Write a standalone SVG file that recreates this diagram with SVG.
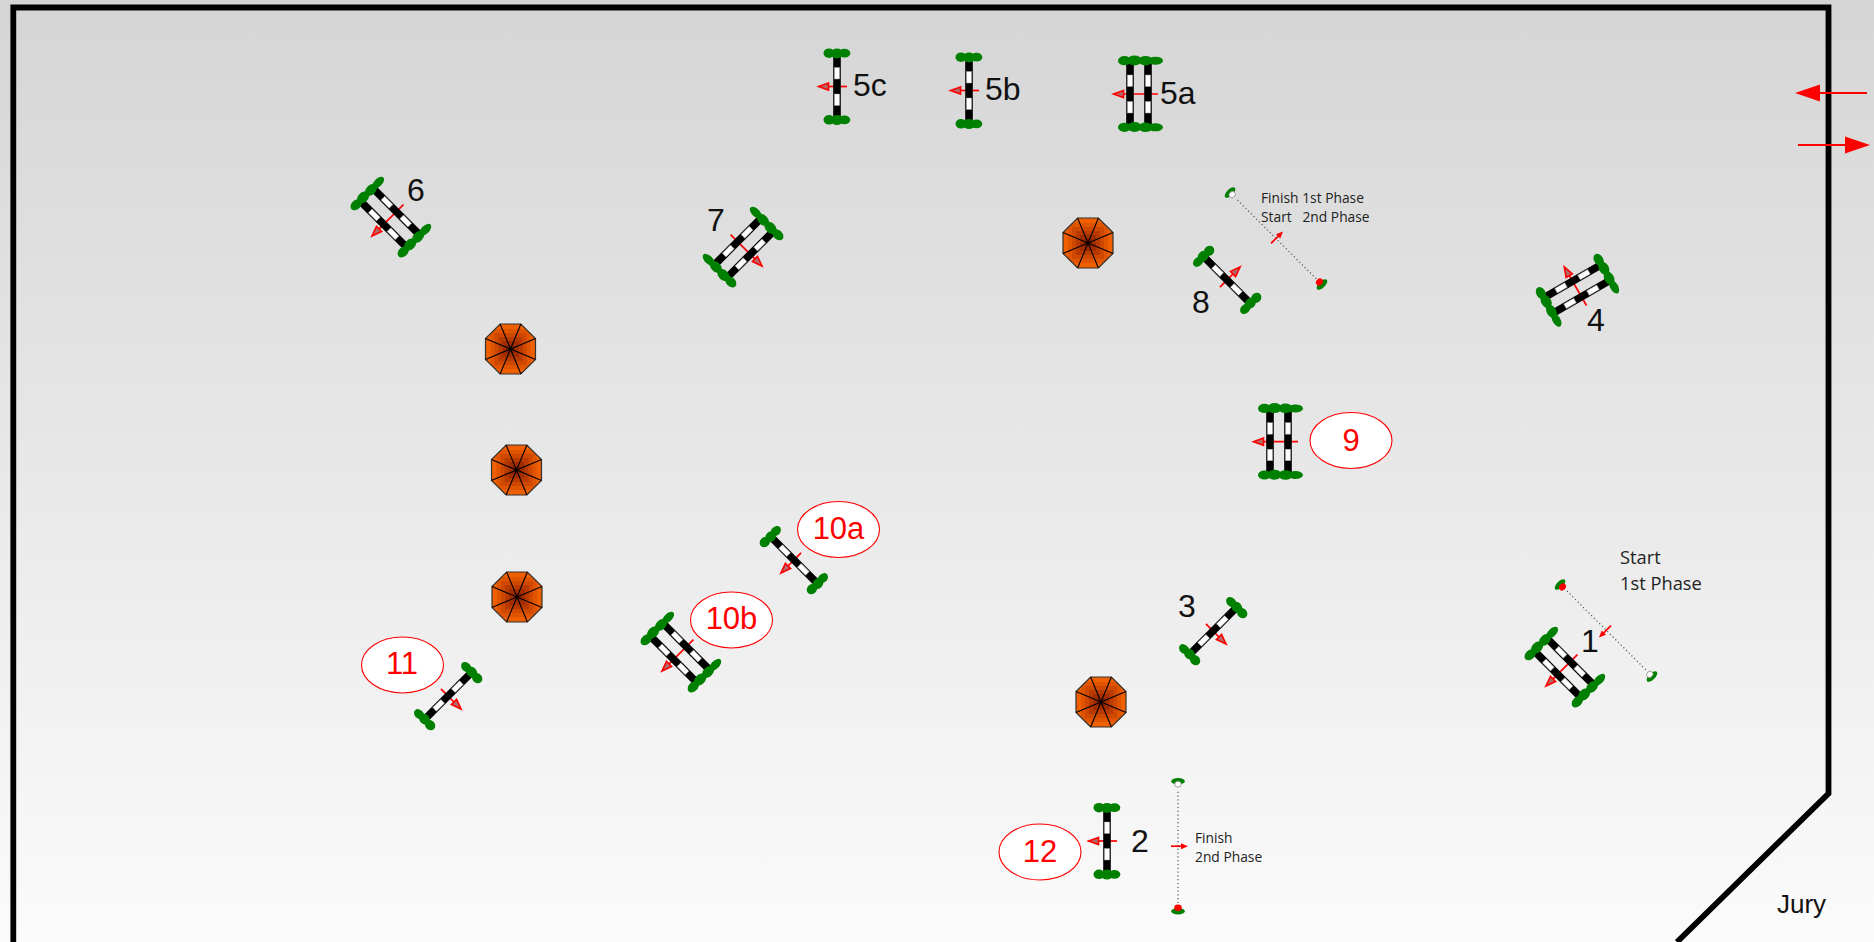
<svg xmlns="http://www.w3.org/2000/svg" width="1874" height="942" viewBox="0 0 1874 942">
<style>
.num{font-family:"Liberation Sans",Arial,sans-serif;font-size:32px;fill:#111}
.red{font-family:"Liberation Sans",Arial,sans-serif;font-size:31px;fill:#f00;text-anchor:middle}
.note{font-family:"Open Sans","Noto Sans",sans-serif;fill:#222;white-space:pre}
.oval{fill:#fff;stroke:#f00;stroke-width:1.1}
.g{fill:#008000}
.bk{fill:#000}
.wh{fill:#fff;stroke:#999;stroke-width:.5}
.ar{stroke:#f00;stroke-width:1.7;fill:none}
.hd{stroke:#f00;stroke-width:1.6;fill:#b06a6a;stroke-linejoin:miter}
.sp{stroke:#000;stroke-width:1.1}
.dot{stroke:#555;stroke-width:1.2;stroke-dasharray:1.2 2.6;fill:none}
</style>
<defs>
<linearGradient id="bg" x1="0" y1="0" x2="0" y2="1"><stop offset="0" stop-color="#d5d5d5"/><stop offset="1" stop-color="#fbfbfb"/></linearGradient>
<g id="bar">
<rect class="bk" x="-3.8" y="-30.5" width="7.6" height="61"/>
<rect class="wh" x="-2.6" y="-19" width="5.2" height="11.5"/>
<rect class="wh" x="-2.6" y="7.5" width="5.2" height="11.5"/>
</g>
<g id="hs">
<ellipse class="g" cx="-8" cy="0" rx="5.5" ry="4.8"/><ellipse class="g" cx="0" cy=".3" rx="6" ry="5"/><ellipse class="g" cx="7.5" cy="0" rx="5.8" ry="4.4"/>
</g>
<g id="hd">
<ellipse class="g" cx="-16" cy="0" rx="6.5" ry="4.6"/><ellipse class="g" cx="-6" cy="-.3" rx="7" ry="5"/><ellipse class="g" cx="5" cy="0" rx="7" ry="4.8"/><ellipse class="g" cx="15" cy="0" rx="7.5" ry="4"/>
</g>
<g id="single">
<path class="ar" d="M10 0H-12"/><path class="hd" d="M-8.500 -3.600L-18.500 0L-8.500 3.600Z"/>
<use href="#bar"/>
<use href="#hs" y="-33.3"/><use href="#hs" y="33.3"/>
</g>
<g id="double">
<path class="ar" d="M19 0H-20"/><path class="hd" d="M-15.500 -3.600L-25.500 0L-15.500 3.600Z"/>
<use href="#bar" x="-9"/><use href="#bar" x="9"/>
<use href="#hd" x="1.5" y="-33.3"/><use href="#hd" x="1.5" y="33.3"/>
</g>
<clipPath id="oc"><path d="M-10.400 -25H10.400L25 -10.400V10.400L10.400 25H-10.400L-25 10.400V-10.400Z"/></clipPath>
<g id="umbrella">
<g clip-path="url(#oc)">
<rect x="-25" y="-25" width="50" height="50" fill="#f06000"/>
<rect x="-20" y="-20" width="40" height="40" fill="#e05400"/>
<rect x="-16" y="-16" width="32" height="32" fill="#cf4800"/>
<rect x="-12" y="-12" width="24" height="24" fill="#b83a00"/>
<rect x="-8" y="-8" width="16" height="16" fill="#a02c00"/>
<rect x="-4" y="-4" width="8" height="8" fill="#8a2000"/>
</g>
<path d="M-10.400 -25H10.400L25 -10.400V10.400L10.400 25H-10.400L-25 10.400V-10.400Z" fill="none" stroke="#333" stroke-width="1.2"/>
<path class="sp" d="M-10.400 -25L10.400 25M10.400 -25L-10.400 25M-25 -10.400L25 10.400M25 -10.400L-25 10.400"/>
<circle r="1.5" fill="#000"/>
</g>
<g id="gate">
<path class="ar" d="M-7 0H5" stroke-width="2.2"/><path d="M3 -3L10 0L3 3Z" fill="#f00"/>
<ellipse class="g" cy="-65" rx="6.800" ry="3.200"/>
<ellipse cy="-62" rx="3.300" ry="3" fill="#fff" stroke="#888" stroke-width=".8"/>
<ellipse class="g" cy="65" rx="6.800" ry="3.200"/>
<ellipse cy="61.500" rx="3.800" ry="3.200" fill="#f00"/>
</g>
</defs>
<rect id="ground" width="1874" height="942" fill="url(#bg)"/>
<path id="arena" d="M13.300 942V7.500H1828.500V793.500L1677 942" fill="none" stroke="#000" stroke-width="5.800" stroke-linejoin="miter"/>
<g id="connectors">
<path class="dot" d="M1178 791.700V903"/>
<path class="dot" d="M1237.500 200L1316.500 279"/>
<path class="dot" d="M1567 591L1646 670"/>
<path d="M1867 93H1815" stroke="#f00" stroke-width="2.2"/><path d="M1820 84.500L1795 93L1820 101.500Z" fill="#f00"/>
<path d="M1798 145H1850" stroke="#f00" stroke-width="2.2"/><path d="M1845 136.500L1870 145L1845 153.500Z" fill="#f00"/>
</g>
<g id="obstacle-5c"><use href="#single" transform="translate(837,86.500)"/><text class="num" x="853" y="96">5c</text></g>
<g id="obstacle-5b"><use href="#single" transform="translate(969,90.500)"/><text class="num" x="985" y="100">5b</text></g>
<g id="obstacle-5a"><use href="#double" transform="translate(1139,94)"/><text class="num" x="1160" y="104">5a</text></g>
<g id="obstacle-6"><use href="#double" transform="translate(390,218) rotate(-45)"/><text class="num" x="407" y="201">6</text></g>
<g id="obstacle-7"><use href="#double" transform="translate(744,248) rotate(225)"/><text class="num" x="707" y="231">7</text></g>
<g id="obstacle-8"><use href="#single" transform="translate(1227,280) rotate(135)"/><text class="num" x="1192" y="313">8</text></g>
<g id="obstacle-4"><use href="#double" transform="translate(1577,289) rotate(60)"/><text class="num" x="1587" y="331">4</text></g>
<g id="obstacle-9"><use href="#double" transform="translate(1279,441.700)"/><ellipse class="oval" cx="1351" cy="440.500" rx="41" ry="28"/><text class="red" x="1351" y="451">9</text></g>
<g id="obstacle-10a"><use href="#single" transform="translate(794,560) rotate(-45)"/><ellipse class="oval" cx="838.500" cy="529.500" rx="41" ry="28"/><text class="red" x="838.500" y="539">10a</text></g>
<g id="obstacle-10b"><use href="#double" transform="translate(680,653) rotate(-45)"/><ellipse class="oval" cx="731.500" cy="620" rx="41" ry="28"/><text class="red" x="731.500" y="629">10b</text></g>
<g id="obstacle-11"><use href="#single" transform="translate(448,696) rotate(225)"/><ellipse class="oval" cx="402.500" cy="665" rx="41" ry="28"/><text class="red" x="402" y="674">11</text></g>
<g id="obstacle-3"><use href="#single" transform="translate(1213,631) rotate(225)"/><text class="num" x="1178" y="617">3</text></g>
<g id="obstacle-1"><use href="#double" transform="translate(1564,668) rotate(-45)"/><text class="num" x="1581" y="652">1</text></g>
<g id="obstacle-2"><use href="#single" transform="translate(1107,841)"/><text class="num" x="1131" y="852">2</text></g>
<g id="obstacle-12"><ellipse class="oval" cx="1040" cy="852" rx="41" ry="28"/><text class="red" x="1040" y="862">12</text></g>
<g id="umbrella-1"><use href="#umbrella" x="1088" y="243"/></g>
<g id="umbrella-2"><use href="#umbrella" x="510.500" y="349"/></g>
<g id="umbrella-3"><use href="#umbrella" x="516.500" y="470"/></g>
<g id="umbrella-4"><use href="#umbrella" x="517" y="597"/></g>
<g id="umbrella-5"><use href="#umbrella" x="1101" y="702"/></g>
<g id="gate-start-1"><use href="#gate" transform="translate(1606,630.500) rotate(135)"/><text class="note" font-size="18.300" x="1620" y="564">Start</text><text class="note" font-size="18.300" x="1620" y="590">1st Phase</text></g>
<g id="gate-finish-1"><use href="#gate" transform="translate(1276,238.500) rotate(-45)"/><text class="note" font-size="13.800" x="1261" y="203">Finish 1st Phase</text><text class="note" font-size="13.800" x="1261" y="222">Start   2nd Phase</text></g>
<g id="gate-finish-2"><use href="#gate" transform="translate(1178,846.200)"/><text class="note" font-size="13.800" x="1195" y="843">Finish</text><text class="note" font-size="13.800" x="1195" y="862">2nd Phase</text></g>
<g id="jury"><text class="num" style="font-size:26px" x="1777" y="913">Jury</text></g>
</svg>
